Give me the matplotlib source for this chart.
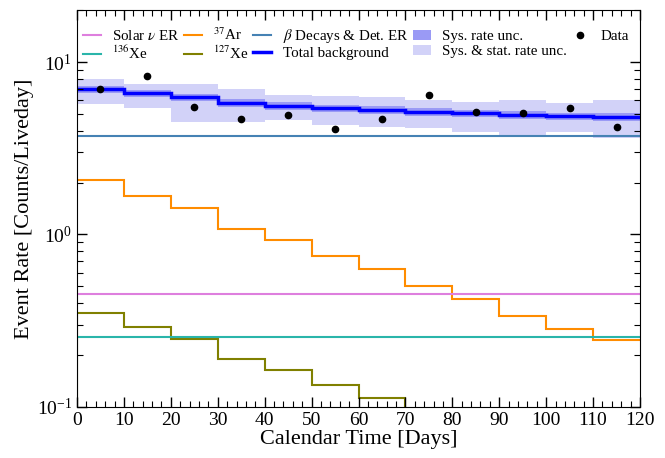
import numpy as np
import matplotlib
matplotlib.use("Agg")
import matplotlib.pyplot as plt
from matplotlib.ticker import LogLocator, MultipleLocator
from matplotlib.patches import Patch
from matplotlib.lines import Line2D

plt.rcParams['font.family'] = ['Liberation Serif', 'DejaVu Serif']
plt.rcParams['mathtext.fontset'] = 'stix'

# bin edges in days (10-day bins)
edges = np.arange(0, 121, 10)
centers = np.arange(5, 120, 10)

solar_nu = 0.45
xe136 = 0.253
beta_det = 3.70

ar37 = [2.06, 1.68, 1.43, 1.08, 0.935, 0.755, 0.627, 0.506, 0.42, 0.335, 0.285, 0.243]
xe127 = [0.352, 0.290, 0.249, 0.190, 0.163, 0.134, 0.112]

total = [6.93, 6.57, 6.23, 5.80, 5.57, 5.38, 5.26, 5.14, 5.03, 4.94, 4.85, 4.81]
sys_frac = 0.05
stat_hi = [8.02, 7.50, 7.50, 6.93, 6.48, 6.31, 6.23, 6.06, 5.90, 6.06, 5.82, 6.06]
stat_lo = [5.69, 5.38, 4.48, 4.48, 4.58, 4.30, 4.19, 4.12, 3.95, 3.71, 3.92, 3.62]

data = [6.93, 8.32, 5.52, 4.70, 4.92, 4.10, 4.70, 6.42, 5.12, 5.03, 5.40, 4.21]

c_solar = '#de7fde'
c_xe136 = '#2ab5aa'
c_ar37 = '#ff8c00'
c_xe127 = '#808000'
c_beta = '#4682b4'
c_total = '#0000ff'
c_sys = '#9a9af5'
c_stat = '#d2d2f8'

fig = plt.figure(figsize=(6.65, 4.58), dpi=100)
ax = fig.add_axes([0.1158, 0.1114, 0.8466, 0.8666])

total = np.array(total)
ax.stairs(stat_hi, edges, baseline=stat_lo, fill=True, color=c_stat, lw=0)
ax.stairs(total * (1 + sys_frac), edges, baseline=total * (1 - sys_frac),
          fill=True, color=c_sys, lw=0)

ax.axhline(solar_nu, color=c_solar, lw=1.5)
ax.axhline(xe136, color=c_xe136, lw=1.5)
ax.axhline(beta_det, color=c_beta, lw=1.5)
ax.stairs(ar37, edges, baseline=None, color=c_ar37, lw=1.5)
ax.stairs(xe127, edges[:len(xe127) + 1], baseline=1e-3, color=c_xe127, lw=1.5)
ax.stairs(total, edges, baseline=None, color=c_total, lw=2.5)
ax.plot(centers, data, 'o', color='black', ms=4.5)

ax.set_yscale('log')
ax.set_xlim(0, 120)
ax.set_ylim(0.1, 20)
ax.xaxis.set_major_locator(MultipleLocator(10))
ax.xaxis.set_minor_locator(MultipleLocator(2))
ax.yaxis.set_major_locator(LogLocator(base=10))
ax.yaxis.set_minor_locator(LogLocator(base=10, subs=np.arange(2, 10)))
ax.tick_params(which='both', direction='in', top=True, right=True, labelsize=14)
ax.tick_params(which='major', length=7, width=1)
ax.tick_params(which='minor', length=4, width=0.8)
ax.set_xlabel('Calendar Time [Days]', fontsize=16, labelpad=1)
ax.set_ylabel('Event Rate [Counts/Liveday]', fontsize=16, labelpad=2)

handles = [
    Line2D([], [], color=c_solar, lw=1.5),
    Line2D([], [], color=c_xe136, lw=1.5),
    Line2D([], [], color=c_ar37, lw=1.5),
    Line2D([], [], color=c_xe127, lw=1.5),
    Line2D([], [], color=c_beta, lw=1.5),
    Line2D([], [], color=c_total, lw=2.5),
    Patch(color=c_sys, lw=0),
    Patch(color=c_stat, lw=0),
    Line2D([], [], color='black', marker='o', ls='none', ms=4.5),
]
labels = [r'Solar $\nu$ ER', r'$^{136}$Xe', r'$^{37}$Ar', r'$^{127}$Xe',
          r'$\beta$ Decays & Det. ER', 'Total background',
          'Sys. rate unc.', 'Sys. & stat. rate unc.', 'Data']
ax.legend(handles, labels, ncol=5, loc='upper left', frameon=False,
          fontsize=10.8, handlelength=1.2, handletextpad=0.75, columnspacing=0.3,
          labelspacing=0.1, borderpad=0.2, borderaxespad=0.9,
          bbox_to_anchor=(-0.019, 1.0))

fig.savefig('out.png', dpi=100)
